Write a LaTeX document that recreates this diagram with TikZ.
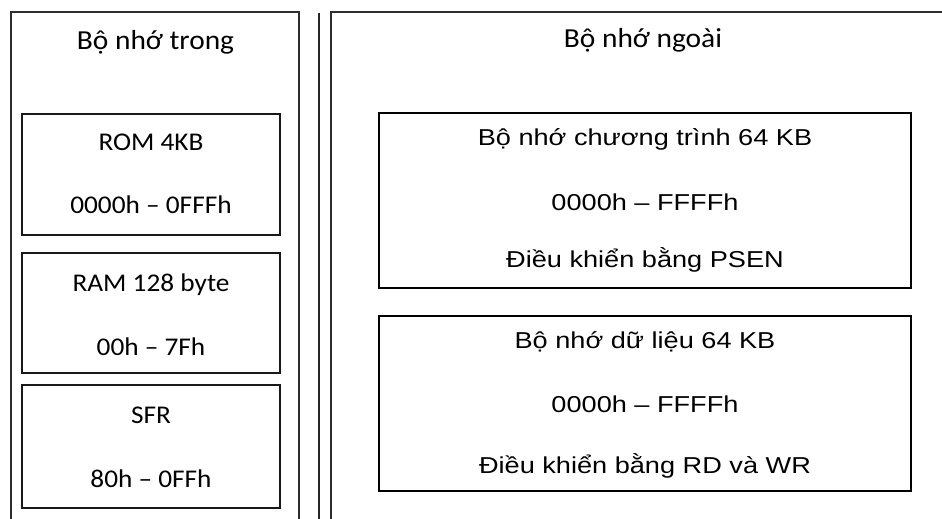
\documentclass[tikz,border=0pt]{standalone}
\usepackage{fontspec}
% Calibri-metric face for the internal memory column, Arial-metric face for the external blocks
\newfontfamily\calfont[FakeStretch=1.07]{Carlito}
\newfontfamily\arfont[FakeStretch=1.18]{Liberation Sans}

\begin{document}
\begin{tikzpicture}[
  x=1pt, y=-1pt,
  frame/.style={line width=1.3pt, draw=black!82},
  divider/.style={line width=1.5pt, draw=black!85},
  boxL/.style={draw=black!90, line width=1.4pt, inner sep=0pt, outer sep=0pt,
               anchor=north west, minimum width=258pt},
  boxR/.style={draw=black, line width=2.2pt, inner sep=0pt, outer sep=0pt,
               anchor=north west, minimum width=532pt, minimum height=175pt},
  lbl/.style={anchor=base, inner sep=0pt, font=\calfont\fontsize{25.5}{30}\selectfont},
  title/.style={anchor=base, inner sep=0pt, font=\calfont\fontsize{27.5}{32}\selectfont},
  rlbl/.style={anchor=base, inner sep=0pt, font=\arfont\fontsize{23}{28}\selectfont}
]
\useasboundingbox (0,0) rectangle (942,519);

% outer frames, open at the bottom (and at the right for the external one)
\draw[frame] (11,519) -- (11,12) -- (299,12) -- (299,519);
\draw[divider] (319,13) -- (319,519);
\draw[frame] (331,519) -- (331,12) -- (942,12);

% internal memory
\node[title] (tIn) at (155.5,49) {Bộ nhớ trong};

\node[boxL, minimum height=121pt] (rom) at (22,114) {};
\node[lbl] (romA) at (151,150) {ROM 4KB};
\node[lbl] (romB) at (151,213) {0000h – 0FFFh};

\node[boxL, minimum height=120pt] (ram) at (22,253) {};
\node[lbl] (ramA) at (151,291) {RAM 128 byte};
\node[lbl] (ramB) at (151,355) {00h – 7Fh};

\node[boxL, minimum height=123pt] (sfr) at (22,385) {};
\node[lbl] (sfrA) at (151,423) {SFR};
\node[lbl] (sfrB) at (151,487) {80h – 0FFh};

% external memory
\node[title] (tOut) at (643,48) {Bộ nhớ ngoài};

\node[boxR] (prog) at (379,113) {};
\node[rlbl] (progA) at (645,145) {Bộ nhớ chương trình 64 KB};
\node[rlbl] (progB) at (645,210) {0000h – FFFFh};
\node[rlbl] (progC) at (645,267) {Điều khiển bằng PSEN};

\node[boxR] (data) at (379,316) {};
\node[rlbl] (dataA) at (645,348) {Bộ nhớ dữ liệu 64 KB};
\node[rlbl] (dataB) at (645,412) {0000h – FFFFh};
\node[rlbl] (dataC) at (645,473) {Điều khiển bằng RD và WR};
\end{tikzpicture}
\end{document}
